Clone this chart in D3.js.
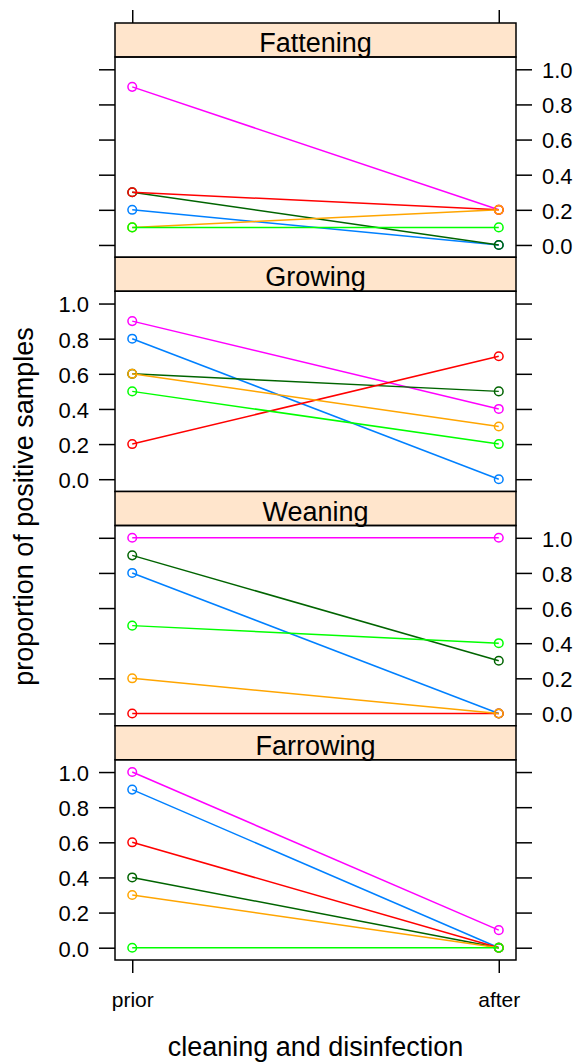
<!DOCTYPE html>
<html lang="en">
<head>
  <meta charset="UTF-8">
  <title>Positive samples prior/after cleaning</title>
  <script src="https://cdn.jsdelivr.net/npm/d3@7"></script>
  <style>
    body{ margin:0; background:#fff; }
    svg text{ font-family: "Liberation Sans", Arial, sans-serif; fill:#000; }
  </style>
</head>
<body>
<div class="chart"></div>
<script>
// panels from top to bottom
const stages = ['Fattening', 'Growing', 'Weaning', 'Farrowing'];
const times = ['prior', 'after'];
const farms = ['1', '2', '3', '4', '5', '6'];
const farmColors = ['#0080ff', '#ff00ff', '#006400', '#ff0000', '#ffa500', '#00ff00'];
const yTicks = [0, 0.2, 0.4, 0.6, 0.8, 1.0];

// [prior, after] per farm
const fattening = [[0.2, 0.0], [0.9, 0.2], [0.3, 0.0], [0.3, 0.2], [0.1, 0.2], [0.1, 0.1]];
const growing   = [[0.8, 0.0], [0.9, 0.4], [0.6, 0.5], [0.2, 0.7], [0.6, 0.3], [0.5, 0.2]];
const weaning   = [[0.8, 0.0], [1.0, 1.0], [0.9, 0.3], [0.0, 0.0], [0.2, 0.0], [0.5, 0.4]];
const farrowing = [[0.9, 0.0], [1.0, 0.1], [0.4, 0.0], [0.6, 0.0], [0.3, 0.0], [0.0, 0.0]];
const stageValues = [fattening, growing, weaning, farrowing];

const W = 579, H = 1063;
const box = {left: 115, right: 516, top: 23, bottom: 960};
const panelH = (box.bottom - box.top) / stages.length;
const stripH = 34;

const svg = d3.select('.chart').append('svg')
  .attr('width', W).attr('height', H);

const x = d3.scalePoint().domain(times).range([box.left, box.right]).padding(0.047);

function styleAxis(sel){
  sel.select('.domain').remove();
  sel.selectAll('.tick line').attr('stroke', '#000').attr('stroke-width', 1.5);
  sel.selectAll('.tick text').attr('font-family', null);
}

stages.forEach((stage, i) => {
  const top = box.top + i * panelH;
  const plotTop = top + stripH, plotBottom = top + panelH;
  const y = d3.scaleLinear().domain([-0.07, 1.07]).range([plotBottom, plotTop]);
  const g = svg.append('g');

  // lattice style alternating labels: bottom panel left, next one right ...
  const labelsLeft = (stages.length - 1 - i) % 2 === 0;
  const left = g.append('g').attr('transform', `translate(${box.left},0)`)
    .call(d3.axisLeft(y).tickValues(yTicks).tickSize(16).tickPadding(10).tickFormat(labelsLeft ? d3.format('.1f') : ''));
  const right = g.append('g').attr('transform', `translate(${box.right},0)`)
    .call(d3.axisRight(y).tickValues(yTicks).tickSize(16).tickPadding(10).tickFormat(labelsLeft ? '' : d3.format('.1f')));
  [left, right].forEach(a => {
    styleAxis(a);
    a.selectAll('.tick text').attr('font-size', 22).attr('dy', '0.38em');
  });

  // strip
  g.append('rect').attr('x', box.left).attr('y', top).attr('width', box.right - box.left).attr('height', stripH)
    .attr('fill', '#ffe5cc').attr('stroke', '#000').attr('stroke-width', 1.5);
  g.append('text').attr('x', (box.left + box.right) / 2).attr('y', top + stripH - 5)
    .attr('text-anchor', 'middle').attr('font-size', 27).text(stage);

  // panel
  g.append('rect').attr('x', box.left).attr('y', plotTop).attr('width', box.right - box.left).attr('height', panelH - stripH)
    .attr('fill', 'none').attr('stroke', '#000').attr('stroke-width', 1.5);

  const line = d3.line().x((d, k) => x(times[k])).y(d => y(d));
  stageValues[i].forEach((vals, f) => {
    g.append('path').attr('d', line(vals)).attr('fill', 'none')
      .attr('stroke', farmColors[f]).attr('stroke-width', 1.5);
    g.selectAll(null).data(vals).enter().append('circle')
      .attr('cx', (d, k) => x(times[k])).attr('cy', d => y(d)).attr('r', 4.3)
      .attr('fill', 'none').attr('stroke', farmColors[f]).attr('stroke-width', 1.5);
  });
});

// x axes: ticks on top, ticks + labels at bottom
const xTop = svg.append('g').attr('transform', `translate(0,${box.top})`)
  .call(d3.axisTop(x).tickSize(13).tickFormat(''));
styleAxis(xTop);
const xBottom = svg.append('g').attr('transform', `translate(0,${box.bottom})`)
  .call(d3.axisBottom(x).tickSize(13).tickPadding(19));
styleAxis(xBottom);
xBottom.selectAll('.tick text').attr('font-size', 21);

svg.append('text').attr('x', (box.left + box.right) / 2).attr('y', 1056)
  .attr('text-anchor', 'middle').attr('font-size', 27).text('cleaning and disinfection');
svg.append('text').attr('transform', `translate(33,${(box.top + box.bottom) / 2 + 15}) rotate(-90)`)
  .attr('text-anchor', 'middle').attr('font-size', 27).text('proportion of positive samples');
</script>
</body>
</html>
